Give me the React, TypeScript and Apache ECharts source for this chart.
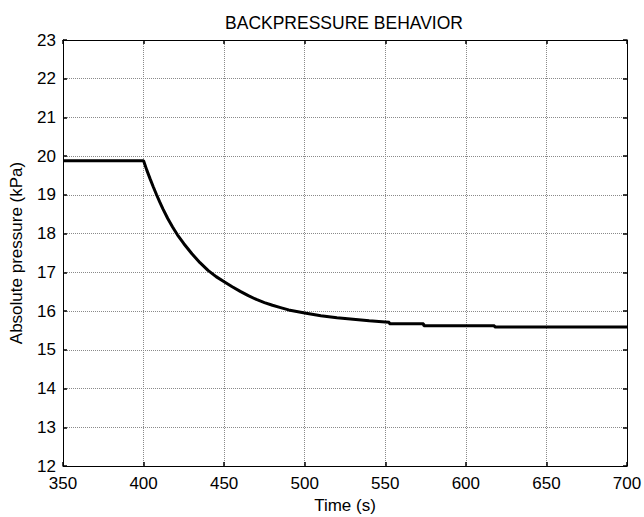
import React, { useEffect, useRef } from "react";
import * as echarts from "echarts";

const times = [350, 400, 402, 404, 406, 408, 410, 412, 415, 418, 421, 425, 430, 435, 440, 445, 450, 455, 460, 465, 470, 475, 480, 485, 490, 495, 500, 510, 520, 530, 540, 550, 552.5, 552.6, 573.8, 573.9, 617.8, 617.9, 700];
const pressure = [19.88, 19.88, 19.64, 19.42, 19.21, 19.01, 18.82, 18.64, 18.39, 18.17, 17.97, 17.74, 17.48, 17.25, 17.05, 16.89, 16.76, 16.63, 16.51, 16.4, 16.3, 16.22, 16.15, 16.09, 16.03, 15.99, 15.95, 15.88, 15.83, 15.79, 15.75, 15.72, 15.71, 15.67, 15.67, 15.62, 15.62, 15.59, 15.59];

const xTicks = [350, 400, 450, 500, 550, 600, 650, 700];
const yTicks = [12, 13, 14, 15, 16, 17, 18, 19, 20, 21, 22, 23];

const FONT = "Liberation Sans";

export default function App() {
  const ref = useRef<HTMLDivElement>(null);
  useEffect(() => {
    if (!ref.current) return;
    const chart = echarts.init(ref.current, null, { renderer: "svg" });
    const data = times.map((t, i) => [t, pressure[i]]);
    const gridLine = { show: true, lineStyle: { color: "#8a8a8a", type: [1, 1] as any, width: 1 } };
    const axisLine = { show: true, onZero: false, lineStyle: { color: "#000", width: 1 } };
    const tick = { show: true, inside: true, length: 4, lineStyle: { color: "#000", width: 1.5 } };
    chart.setOption({
      animation: false,
      backgroundColor: "#fff",
      title: {
        text: "BACKPRESSURE BEHAVIOR",
        left: 339,
        top: 9,
        textAlign: "center",
        textStyle: { fontFamily: FONT, fontSize: 17.5, fontWeight: "normal", color: "#000" },
      },
      grid: { left: 63, right: 17, top: 40, bottom: 51, containLabel: false, outerBoundsMode: "none" },
      xAxis: [
        {
          type: "value",
          min: 350,
          max: 700,
          interval: 50,
          position: "bottom",
          name: "Time (s)",
          nameLocation: "middle",
          nameGap: 26,
          nameTextStyle: { fontFamily: FONT, fontSize: 17, color: "#000" },
          axisLine,
          axisTick: tick,
          axisLabel: { fontFamily: FONT, fontSize: 17, color: "#000", margin: 9, formatter: (v: number) => (xTicks.includes(v) ? String(v) : "") },
          splitLine: gridLine,
        },
        {
          type: "value",
          min: 350,
          max: 700,
          interval: 50,
          position: "top",
          axisLine,
          axisTick: tick,
          axisLabel: { show: false },
          splitLine: { show: false },
        },
      ],
      yAxis: [
        {
          type: "value",
          min: 12,
          max: 23,
          interval: 1,
          position: "left",
          name: "Absolute pressure (kPa)",
          nameLocation: "middle",
          nameGap: 38,
          nameTextStyle: { fontFamily: FONT, fontSize: 17, color: "#000" },
          axisLine,
          axisTick: tick,
          axisLabel: { fontFamily: FONT, fontSize: 17, color: "#000", margin: 7, formatter: (v: number) => (yTicks.includes(v) ? String(v) : "") },
          splitLine: gridLine,
        },
        {
          type: "value",
          min: 12,
          max: 23,
          interval: 1,
          position: "right",
          axisLine,
          axisTick: tick,
          axisLabel: { show: false },
          splitLine: { show: false },
        },
      ],
      series: [
        {
          type: "line",
          data,
          showSymbol: false,
          symbol: "none",
          smooth: false,
          lineStyle: { color: "#000", width: 3 },
          xAxisIndex: 0,
          yAxisIndex: 0,
        },
      ],
    });
    return () => chart.dispose();
  }, []);
  return <div ref={ref} style={{ width: 644, height: 517, position: "absolute", left: 0, top: 0 }} />;
}
